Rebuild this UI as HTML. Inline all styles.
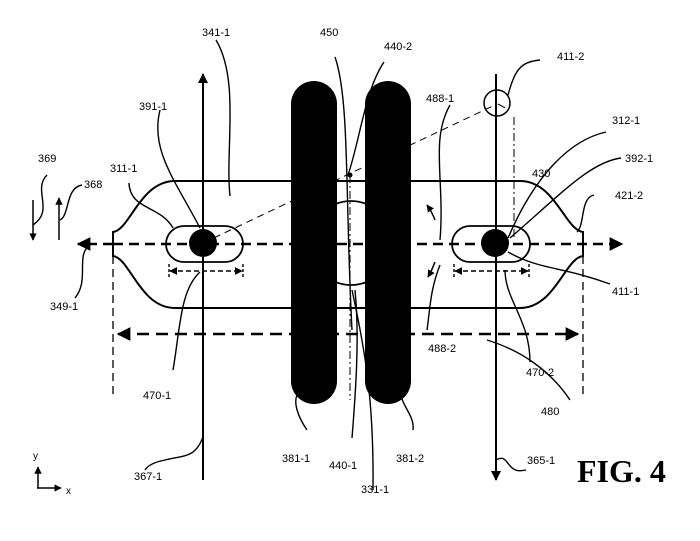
<!DOCTYPE html>
<html><head><meta charset="utf-8"><style>
html,body{margin:0;padding:0;background:#fff;}
svg{display:block;}
text{font-family:"Liberation Sans",sans-serif;font-size:11px;fill:#000;}
</style></head><body>
<svg width="700" height="541" viewBox="0 0 700 541" xmlns="http://www.w3.org/2000/svg">
<defs>
<marker id="a" viewBox="0 0 10 10" refX="9" refY="5" markerWidth="5" markerHeight="5" orient="auto-start-reverse"><path d="M0,0 L10,5 L0,10 z" fill="#000"/></marker>
<marker id="b" viewBox="0 0 10 10" refX="9" refY="5" markerWidth="5.5" markerHeight="5.5" orient="auto-start-reverse"><path d="M0,0 L10,5 L0,10 z" fill="#000"/></marker>
</defs>
<g fill="none" stroke="#000">
<path d="M175,181 L520,181 C555,181 565,230 583,232 L583,256 C565,258 555,308 520,308 L175,308 C140,308 130,258 113,256 L113,232 C130,230 140,181 175,181 Z" stroke-width="2"/>
<rect x="166" y="226" width="77" height="36" rx="18" stroke-width="1.8"/>
<rect x="452" y="226" width="78" height="36" rx="18" stroke-width="1.8"/>
<circle cx="351" cy="243" r="42" stroke-width="1.8"/>
<line x1="203" y1="480" x2="203" y2="74" stroke-width="2" marker-end="url(#a)"/>
<line x1="496" y1="74" x2="496" y2="480" stroke-width="2" marker-end="url(#a)"/>
<line x1="113" y1="244" x2="78" y2="244" stroke-width="2.5" stroke-dasharray="10,6" marker-end="url(#b)"/>
<line x1="113" y1="244" x2="622" y2="244" stroke-width="2.5" stroke-dasharray="10,6" marker-end="url(#b)"/>
<line x1="118" y1="334" x2="578" y2="334" stroke-width="2.5" stroke-dasharray="12,7" marker-start="url(#b)" marker-end="url(#b)"/>
<line x1="113" y1="256" x2="113" y2="395" stroke-width="1.3" stroke-dasharray="8,5"/>
<line x1="583" y1="256" x2="583" y2="395" stroke-width="1.3" stroke-dasharray="8,5"/>
<line x1="170" y1="271" x2="242" y2="271" stroke-width="1.6" stroke-dasharray="5,3" marker-start="url(#a)" marker-end="url(#a)"/>
<line x1="169" y1="264" x2="169" y2="278" stroke-width="1.4" stroke-dasharray="3,2"/>
<line x1="243" y1="264" x2="243" y2="278" stroke-width="1.4" stroke-dasharray="3,2"/>
<line x1="455" y1="271" x2="528" y2="271" stroke-width="1.6" stroke-dasharray="5,3" marker-start="url(#a)" marker-end="url(#a)"/>
<line x1="454" y1="264" x2="454" y2="278" stroke-width="1.4" stroke-dasharray="3,2"/>
<line x1="529" y1="264" x2="529" y2="278" stroke-width="1.4" stroke-dasharray="3,2"/>
<line x1="203" y1="243" x2="497" y2="104" stroke-width="1" stroke-dasharray="7,5"/>
<circle cx="497" cy="103" r="13" stroke-width="1.5"/>
<path d="M498,104 L509,110 M514,117 L514,240" stroke-width="1" stroke-dasharray="8,3,2,3"/>
<line x1="350" y1="175" x2="350" y2="400" stroke-width="1" stroke-dasharray="8,3,2,3"/>
<line x1="33" y1="200" x2="33" y2="240" stroke-width="1.5" marker-end="url(#a)"/>
<line x1="59" y1="240" x2="59" y2="198" stroke-width="1.5" marker-end="url(#a)"/>
<path d="M435,220 Q432,212 427,205" stroke-width="1.5" marker-end="url(#a)"/>
<path d="M435,262 Q432,270 428,277" stroke-width="1.5" marker-end="url(#a)"/>
<line x1="38" y1="488" x2="38" y2="467" stroke-width="1.5" marker-end="url(#a)"/>
<line x1="37" y1="488" x2="61" y2="488" stroke-width="1.5" marker-end="url(#a)"/>
<g stroke-width="1.4">
<path d="M216,40 C240,80 225,150 230,196"/>
<path d="M160,110 C150,150 175,180 200,228"/>
<path d="M129,183 C130,210 160,205 173,228"/>
<path d="M47,175 C32,190 55,210 33,225"/>
<path d="M82,185 C65,188 70,215 60,220"/>
<path d="M90,245 C75,255 90,280 75,298"/>
<path d="M200,272 C180,290 180,330 173,370"/>
<path d="M203,437 C195,458 185,455 165,460 C155,462 148,465 145,470"/>
<path d="M335,57 C350,100 345,200 352,330"/>
<path d="M384,62 C365,90 360,140 348,175"/>
<path d="M450,105 C430,140 445,180 440,240"/>
<path d="M440,265 C430,290 430,310 427,330"/>
<path d="M300,391 C290,400 300,420 307,430"/>
<path d="M355,290 C360,340 355,400 352,438"/>
<path d="M352,290 C365,350 374,400 373,490"/>
<path d="M401,391 C400,405 415,415 413,430"/>
<path d="M540,60 C520,62 515,70 508,95"/>
<path d="M606,132 C570,140 535,175 508,238"/>
<path d="M621,158 C590,162 560,195 510,238"/>
<path d="M594,195 C580,198 585,225 577,232"/>
<path d="M508,252 C540,270 560,266 610,284"/>
<path d="M505,270 C505,300 530,320 530,362"/>
<path d="M487,340 C520,350 550,370 570,400"/>
<path d="M496,460 C510,452 505,475 526,470"/>
</g>
</g>
<rect x="291" y="81" width="46" height="323" rx="23" fill="#000"/>
<rect x="365" y="81" width="46" height="323" rx="23" fill="#000"/>
<circle cx="203" cy="243" r="14" fill="#000"/>
<circle cx="495" cy="243" r="14" fill="#000"/>
<circle cx="350" cy="175" r="2.5" fill="#000"/>
<text x="202" y="36">341-1</text>
<text x="320" y="36">450</text>
<text x="384" y="50">440-2</text>
<text x="557" y="60">411-2</text>
<text x="139" y="110">391-1</text>
<text x="426" y="102">488-1</text>
<text x="612" y="124">312-1</text>
<text x="625" y="162">392-1</text>
<text x="38" y="162">369</text>
<text x="110" y="172">311-1</text>
<text x="84" y="188">368</text>
<text x="532" y="177">430</text>
<text x="615" y="199">421-2</text>
<text x="612" y="295">411-1</text>
<text x="50" y="310">349-1</text>
<text x="428" y="352">488-2</text>
<text x="526" y="376">470-2</text>
<text x="143" y="399">470-1</text>
<text x="541" y="415">480</text>
<text x="282" y="462">381-1</text>
<text x="396" y="462">381-2</text>
<text x="329" y="469">440-1</text>
<text x="361" y="493">331-1</text>
<text x="527" y="464">365-1</text>
<text x="134" y="480">367-1</text>
<text x="33" y="459" style="font-size:10px">y</text>
<text x="66" y="494" style="font-size:10px">x</text>
<text x="577" y="482" style="font-family:'Liberation Serif',serif;font-size:32px;font-weight:bold">FIG. 4</text>
</svg>
</body></html>
